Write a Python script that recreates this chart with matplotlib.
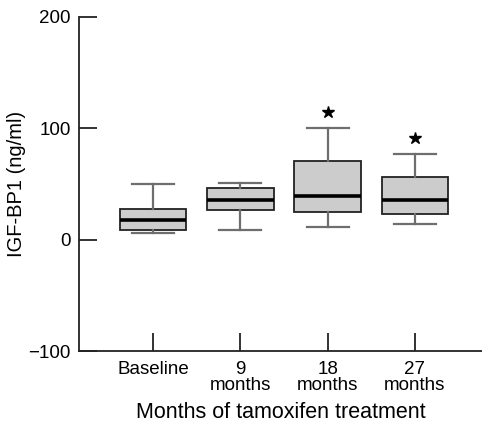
import matplotlib.pyplot as plt

plt.rcParams['font.family'] = ['Liberation Sans', 'DejaVu Sans']

# box statistics (ng/ml)
groups = ['Baseline', '9\nmonths', '18\nmonths', '27\nmonths']
whisker_lo = [6, 9, 11, 14]
q1 = [8.5, 26.5, 24.5, 23]
median = [17.5, 35.5, 39, 35.5]
q3 = [28, 46, 71, 56]
whisker_hi = [50, 51, 100, 76.5]
star_pos = [3, 4]
star_y = [115, 91]

stats = []
for i in range(len(groups)):
    stats.append(dict(whislo=whisker_lo[i], q1=q1[i], med=median[i],
                      q3=q3[i], whishi=whisker_hi[i], fliers=[]))

fig = plt.figure(figsize=(4.82, 4.23), dpi=100)
ax = fig.add_axes([0.164, 0.170, 0.836, 0.79])

ax.bxp(stats, positions=[1, 2, 3, 4], widths=0.76, patch_artist=True,
       showfliers=False,
       boxprops=dict(facecolor='#cccccc', edgecolor='#222222', linewidth=1.3),
       medianprops=dict(color='black', linewidth=2.6),
       whiskerprops=dict(color='#6e6e6e', linewidth=1.6),
       capprops=dict(color='#6e6e6e', linewidth=1.6),
       capwidths=0.48)

ax.plot(star_pos, star_y, linestyle='none', marker='*', color='black',
        markersize=9)

ax.set_xlim(0.15, 4.77)
ax.set_ylim(-100, 200)
ax.set_yticks([-100, 0, 100, 200])
ax.set_yticklabels(['\u2212100', '0', '100', '200'])
ax.set_xticks([1, 2, 3, 4])
ax.set_xticklabels(groups, linespacing=0.9)

ax.spines['top'].set_visible(False)
ax.spines['right'].set_visible(False)
for s in ['left', 'bottom']:
    ax.spines[s].set_linewidth(1.3)
    ax.spines[s].set_color('#222222')

ax.tick_params(axis='both', direction='in', length=13, width=1.3,
               color='#222222', labelsize=13.5)
ax.tick_params(axis='y', pad=6)
ax.tick_params(axis='x', pad=7)

ax.set_xlabel('Months of tamoxifen treatment', fontsize=15.5, labelpad=6)
ax.set_ylabel('IGF-BP1 (ng/ml)', fontsize=14.5, labelpad=2)

fig.savefig('out.png', dpi=100)
